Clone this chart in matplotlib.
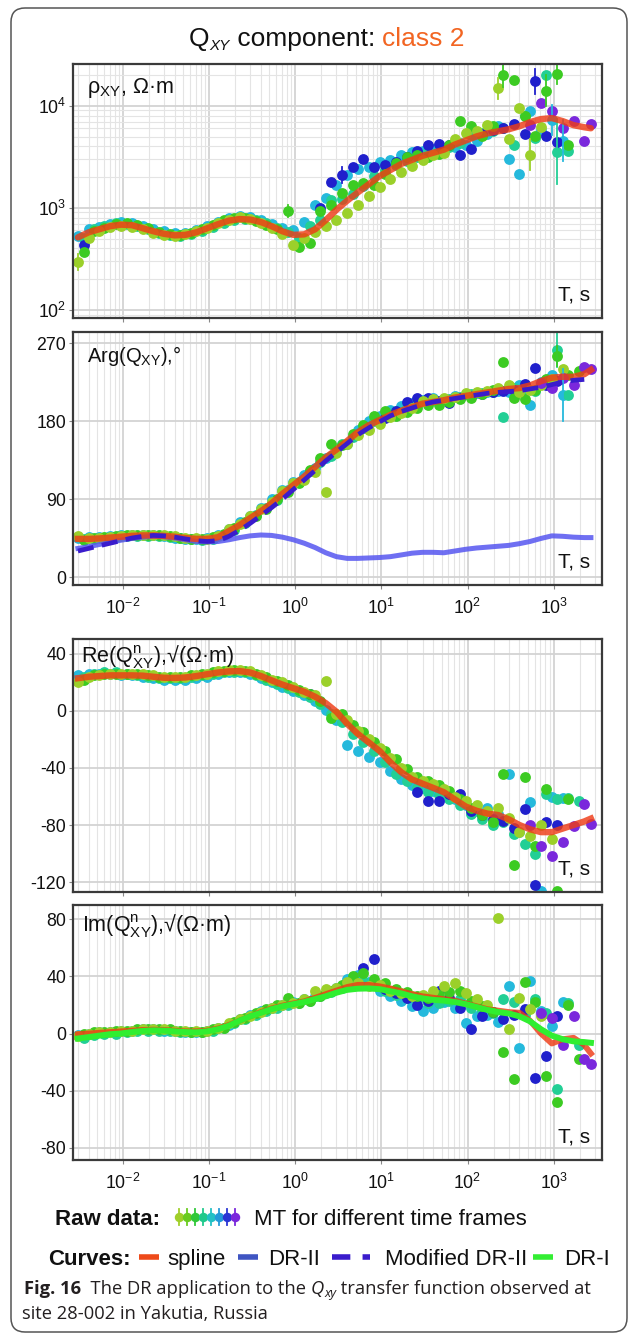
import numpy as np
import matplotlib
matplotlib.use('Agg')
import matplotlib.pyplot as plt
import matplotlib.ticker as mticker
from matplotlib.patches import FancyBboxPatch

plt.rcParams['font.family'] = ['Liberation Sans', 'DejaVu Sans']
plt.rcParams['mathtext.fontset'] = 'custom'
plt.rcParams['mathtext.rm'] = 'Liberation Sans'
plt.rcParams['mathtext.it'] = 'Liberation Sans:italic'
plt.rcParams['mathtext.bf'] = 'Liberation Sans:bold'
plt.rcParams['axes.unicode_minus'] = False

n = np.nan

# ---------------- data ----------------
# period grid of the curves and of time frames YG, C, P (s)
period = [0.003, 0.004, 0.0053, 0.0071, 0.0095, 0.0127, 0.017, 0.0226,
          0.03, 0.04, 0.053, 0.071, 0.095, 0.127, 0.17, 0.226,
          0.3, 0.4, 0.53, 0.71, 0.95, 1.27, 1.7, 2.26,
          3, 4, 5.3, 7.1, 9.5, 12.7, 17, 22.6,
          30, 40, 53, 71, 95, 127, 170, 226,
          300, 400, 530, 710, 950, 1270, 1700, 2260, 2700]
# period grid of time frames G, T, B (s)
period_b = [0.0035, 0.0046, 0.0061, 0.0082, 0.011, 0.0147, 0.0196, 0.0261,
            0.0347, 0.0462, 0.0612, 0.082, 0.11, 0.147, 0.196, 0.261,
            0.347, 0.462, 0.612, 0.82, 1.1, 1.47, 1.96, 2.61,
            3.47, 4.62, 6.12, 8.2, 11, 14.7, 19.6, 26.1,
            34.7, 46.2, 61.2, 82, 110, 147, 196, 261,
            347, 462, 612, 820, 1100, 1470, 1960, 2450, 2600]
x_ticks = [1e-2, 1e-1, 1e0, 1e1, 1e2, 1e3]

frame_names = ['C', 'T', 'B', 'G', 'YG', 'P']
frame_grid = {'YG': 'a', 'C': 'a', 'P': 'a', 'G': 'b', 'T': 'b', 'B': 'b'}
frame_colors = {'YG': '#9bd02a', 'G': '#3ccb22', 'T': '#22cf95',
                'C': '#25b9dc', 'B': '#2020cc', 'P': '#7a28dc'}
legend_colors = ['#a0cf2a', '#6acb20', '#30c838', '#20c98c', '#22c0c4',
                 '#2398d8', '#2a35d4', '#7a28dc']

# panel 1: log10 of apparent resistivity rho_xy (Ohm m)
rho_spline_log = [2.71, 2.76, 2.79, 2.82, 2.835, 2.83, 2.80, 2.77,
                  2.745, 2.73, 2.735, 2.76, 2.80, 2.84, 2.875, 2.89,
                  2.885, 2.86, 2.82, 2.77, 2.735, 2.74, 2.79, 2.88,
                  2.98, 3.07, 3.15, 3.23, 3.31, 3.37, 3.43, 3.47,
                  3.51, 3.54, 3.57, 3.62, 3.66, 3.70, 3.73, 3.75,
                  3.77, 3.80, 3.84, 3.87, 3.88, 3.85, 3.81, 3.79, 3.78]
rho_raw_log = {
    'YG': [2.47, 2.70, 2.77, 2.81, 2.82, 2.81, 2.79, 2.75,
           2.73, 2.72, 2.74, 2.77, 2.80, 2.85, 2.88, 2.91,
           2.89, 2.85, 2.80, 2.74, 2.64, 2.70, 2.76, 2.82,
           2.88, 2.95, 3.03, 3.12, 3.20, 3.28, 3.35, 3.41,
           3.47, 3.52, 3.54, 3.67, 3.73, 3.75, 3.81, 4.17,
           3.67, 3.98, 3.52, 3.79, n, n, n, n, n],
    'G': [2.57, 2.77, 2.80, 2.84, 2.85, 2.83, 2.80, 2.76,
          2.74, 2.73, 2.75, 2.79, 2.83, 2.88, 2.90, 2.90,
          2.87, 2.83, 2.79, 2.97, 2.62, 2.66, 2.97, 3.03,
          3.15, 3.22, 3.24, 3.22, 3.33, 3.44, 3.50, 3.52,
          3.50, 3.53, 3.62, 3.85, 3.80, 3.70, 3.80, 4.30,
          4.25, 3.90, 3.70, 4.15, 4.31, 3.62, n, n, n],
    'T': [2.70, 2.79, 2.82, 2.85, 2.84, 2.82, 2.79, 2.75,
          2.73, 2.72, 2.74, 2.77, 2.81, 2.85, 2.88, 2.89,
          2.88, 2.85, 2.80, 2.76, 2.70, 2.82, 2.88, 3.08,
          3.09, 3.14, 3.21, 3.31, 3.37, 3.42, 3.46, 3.50,
          3.55, 3.57, 3.60, 3.64, 3.71, 3.73, 3.75, 3.78,
          3.62, 3.90, 3.68, 4.30, 3.55, 3.56, n, n, n],
    'C': [2.72, 2.79, 2.81, 2.84, 2.86, 2.85, 2.82, 2.79,
          2.77, 2.75, 2.75, 2.78, 2.82, 2.86, 2.90, 2.92,
          2.91, 2.88, 2.84, 2.80, 2.78, 2.86, 3.03, 3.10,
          3.22, 3.32, 3.38, 3.40, 3.45, 3.47, 3.52, 3.55,
          3.56, 3.58, 3.56, 3.60, 3.62, 3.66, 3.72, 3.80,
          3.48, 3.33, 3.95, 3.76, 3.86, 3.66, n, n, n],
    'B': [2.64, n, n, n, n, n, n, n,
          n, n, n, n, n, n, n, n,
          n, n, n, n, n, n, 3.00, 3.25,
          3.32, 3.40, 3.48, 3.40, 3.42, 3.45, 3.50, 3.56,
          3.62, 3.63, 3.62, 3.52, 3.58, 3.72, 3.76, 3.78,
          3.82, 3.72, 4.24, 3.70, 3.65, n, n, n, n],
    'P': [n] * 40 + [n, n, 3.81, 4.03, 3.95, 3.78, 3.85, 3.66, 3.82],
}
rho_err_log = [('YG', 0, 0.08), ('G', 39, 0.12), ('YG', 39, 0.10), ('G', 43, 0.15),
               ('G', 44, 0.10), ('T', 44, 0.32), ('C', 44, 0.15), ('C', 45, 0.20),
               ('B', 42, 0.12), ('YG', 42, 0.15), ('B', 24, 0.08), ('G', 19, 0.06)]

# panel 2: phase Arg(Q_xy), degrees
arg_spline = [44, 44, 44.5, 45.5, 46.5, 47.5, 48, 48,
              47.5, 46.5, 45, 44, 44, 46, 53, 60,
              68, 76, 85, 96, 106, 116, 127, 138,
              147, 157, 167, 175, 181, 187, 192, 196,
              200, 202, 204, 207, 209, 211, 213, 215,
              217, 218, 221, 226, 230, 231, 231, 234, 239]
arg_mod_dr2 = [30, 33, 36, 39, 42, 45, 47, 48,
               47.5, 46, 44, 42, 41, 42, 47, 54,
               62, 71, 80, 90, 101, 112, 123, 134,
               144, 154, 164, 172, 179, 186, 191, 195,
               199, 202, 204, 206, 208, 210, 212, 213,
               214, 215, 217, 219, 222, 225, 227, 228, n]
arg_dr2 = [33, 35, 37.5, 40, 42.5, 44.5, 46, 47,
           46.5, 45, 43, 41, 40.5, 41, 43, 45.5,
           47.5, 48.5, 48, 46, 43, 39, 34, 28,
           23.5, 21.5, 21.5, 22, 22.5, 23.5, 25.5, 27.5,
           28.5, 28.5, 28, 30, 32, 33.5, 34.5, 35.5,
           36.5, 38.5, 41, 44.5, 47.5, 47, 46, 45.5, 45.5]
arg_raw = {
    'YG': [47, 45, 45, 46, 47, 48, 49, 49,
           48, 47, 45, 45, 44, 47, 55, 61,
           70, 78, 87, 99, 108, 112, 121, 98,
           143, 154, 164, 170, 176, 185, 189, 195,
           203, 205, 206, 208, 212, 213, 215, 218,
           222, 214, 216, 222, 228, 240, n, n, n],
    'G': [43, 45, 46, 47, 48, 49, 49, 48,
          47, 45, 44, 44, 46, 50, 56, 63,
          70, 79, 90, 98, 109, 123, 137, 153,
          152, 165, 175, 186, 191, 186, 190, 195,
          198, 199, 202, 205, 207, 211, 216, 248,
          207, 205, 216, 228, 255, 233, 238, n, n],
    'T': [44, 44, 45, 46, 47, 47, 47, 47,
          46, 45, 44, 43, 44, 48, 54, 62,
          71, 80, 89, 100, 110, 122, 133, 140,
          154, 162, 172, 180, 185, 191, 196, 199,
          201, 202, 205, 208, 211, 212, 214, 185,
          218, 217, 215, 226, 262, 210, n, n, n],
    'C': [45, 46, 46, 47, 48, 49, 49, 48,
          47, 45, 44, 44, 45, 48, 55, 63,
          70, 80, 90, 100, 110, 118, 126, 137,
          144, 153, 170, 180, 186, 193, 197, 201,
          204, 206, 205, 209, 211, 212, 214, 215,
          213, 222, 199, 225, 233, 210, n, n, n],
    'B': [n] * 24 + [n, n, n, n, 184, 192, 202, 206,
                     206, 203, 201, 206, 209, 211, 213, 215,
                     216, 223, 241, 222, 226, n, n, n, n],
    'P': [n] * 40 + [n, n, n, 224, 218, 230, 221, 242, 240],
}
arg_err = [('T', 44, 20), ('C', 45, 30), ('G', 44, 12)]

# panel 3: Re(Q^n_xy), sqrt(Ohm m)
re_spline = [23, 24, 24.5, 25, 25, 25, 24.8, 24,
             23.3, 23.2, 23.5, 24.5, 25.8, 27, 27.8, 28,
             27, 24.5, 21.5, 18.5, 16, 13.5, 10, 5.5,
             -0.5, -9, -16, -22, -28, -36, -43, -48,
             -51, -54, -57, -62, -67, -70, -72, -73,
             -76, -80, -83, -85, -85, -82.5, -80, -77.5, -75.5]
re_raw = {
    'YG': [20, 24, 25, 26, 26, 26, 26, 25,
           24, 24, 24, 25, 26, 28, 29, 29,
           28, 25, 22, 20, 17, 13, 11, 21,
           -2, -6, -14, -20, -26, -33, -40, -46,
           -49, -51, -55, -60, -63, -66, -70, -68,
           -75, -85, -88, -80, -90, n, n, n, n],
    'G': [22, 25, 26, 26, 26, 26, 25, 24,
          24, 24, 25, 26, 27, 28, 29, 28,
          26, 24, 21, 18, 15, 12, 7, -5,
          -2, -10, -15, -22, -28, -34, -41, -46,
          -49, -52, -56, -62, -68, -73, -78, -44,
          -108, -46, -95, -55, -126, -62, n, n, n],
    'T': [24, 26, 27, 27, 26, 25, 24, 23,
          23, 23, 24, 25, 26, 27, 27, 27,
          25, 22, 19, 16, 13, 10, 5, -2,
          -8, -16, -22, -28, -36, -44, -49, -54,
          -57, -59, -62, -66, -72, -76, -80, -78,
          -86, -93, -100, -58, -62, -61, -63, n, n],
    'C': [25, 26, 26, 26, 25, 25, 24, 23,
          22, 22, 22, 23, 24, 26, 27, 27,
          26, 23, 20, 17, 14, 11, 7, 1,
          -6, -24, -28, -32, -36, -42, -48, -52,
          -54, -56, -58, -62, -66, -70, -68, -72,
          -44, -85, -64, -126, -60, -61, n, n, n],
    'B': [n] * 16 + [n, n, n, n, n, 12, n, n,
                     n, n, n, n, n, n, n, -57,
                     -63, -63, -58, -58, -70, -73, -76, -77,
                     -82, -69, -122, -78, -80, n, n, n, n],
    'P': [n] * 40 + [n, n, -80, -95, -102, -92, -81, -65, -79],
}

# panel 4: Im(Q^n_xy), sqrt(Ohm m)
im_spline = [-0.5, 0, 0.5, 1, 1.5, 2, 2.5, 2.7,
             2.5, 2, 1.5, 1.5, 2, 3.5, 6, 9,
             12, 15, 17.5, 19.5, 21, 22.5, 25, 27.5,
             30, 32.5, 34, 34, 33, 31.5, 29.5, 27.5,
             26, 25, 24, 23, 21, 19, 17, 16,
             15, 14.5, 9, 0, -7, -4, -3, -8, -14]
im_dr1 = [-3.5, -2.5, -1.5, -0.5, 0, 1, 1.8, 2.2,
          2, 1.5, 1, 0.8, 1.5, 3, 5.5, 9,
          12, 14.5, 17, 19, 20.5, 22, 24, 26,
          28.5, 30.5, 31.3, 31.5, 31, 29.5, 28, 26,
          24.5, 23.5, 23, 22, 20.5, 18.5, 16.5, 15,
          14, 12, 8.5, 3, -1.5, -4, -5.5, -6, -6.5]
im_raw = {
    'YG': [-2, 0, 1, 1, 2, 2, 3, 3,
           3, 2, 2, 2, 2, 4, 7, 10,
           12, 15, 18, 20, 21, 24, 30, 31,
           32, 36, 35, 33, 34, 30, 28, 26,
           27, 30, 33, 35, 28, 24, 20, 81,
           3, 25, 17, 12, n, n, n, n, n],
    'G': [0, 1, 1, 2, 2, 3, 3, 3,
          3, 2, 1, 1, 3, 4, 8, 11,
          14, 17, 20, 25, 21, 23, 26, 30,
          34, 40, 42, 38, 35, 31, 29, 26,
          25, 27, 29, 30, 23, 19, 15, -13,
          -32, 36, 22, -30, -48, 20, -18, n, n],
    'T': [-3, -1, 0, 0, 1, 2, 2, 2,
          2, 1, 1, 1, 2, 4, 7, 10,
          13, 16, 18, 20, 21, 23, 26, 29,
          32, 35, 37, 34, 30, 27, 25, 23,
          21, 21, 23, 24, 18, 16, 14, 24,
          22, 13, 24, 14, -39, 21, -8, n, n],
    'C': [-1, 0, 1, 1, 2, 2, 3, 3,
          2, 2, 1, 1, 2, 4, 6, 10,
          13, 16, 18, 20, 22, 24, 26, 28,
          32, 38, 41, 36, 30, 26, 23, 19,
          16, 18, 22, 18, 7, 12, 13, 8,
          33, -10, 37, 16, 5, 22, n, n, n],
    'B': [n] * 24 + [n, n, 46, 52, 31, 28, 25, 20,
                     23, 30, 25, 18, 3, 12, 15, 10,
                     13, 17, -31, -16, 12, n, n, n, n],
    'P': [n] * 40 + [n, n, n, 14, 11, -8, 12, -18, -21],
}

# ---------------- figure ----------------
W, H = 629, 1335
fig = plt.figure(figsize=(W / 100, H / 100), dpi=100)

def rect(top, bottom, left=73, right=602):
    return [left / W, 1 - bottom / H, (right - left) / W, (bottom - top) / H]

ax1 = fig.add_axes(rect(64, 318))
ax2 = fig.add_axes(rect(332, 585))
ax3 = fig.add_axes(rect(639, 892))
ax4 = fig.add_axes(rect(905, 1160))
axes = [ax1, ax2, ax3, ax4]

T = np.array(period)
grids = {'a': np.array(period), 'b': np.array(period_b)}
for ax in axes:
    ax.set_xscale('log')
    ax.set_xlim(10 ** -2.58, 10 ** 3.56)
    ax.xaxis.set_major_locator(mticker.FixedLocator(x_ticks))
    ax.xaxis.set_minor_locator(mticker.LogLocator(base=10, subs=np.arange(2, 10), numticks=20))
    ax.xaxis.set_minor_formatter(mticker.NullFormatter())
    ax.xaxis.set_major_formatter(mticker.LogFormatterMathtext())
    ax.grid(which='major', color='#d3d3d3', lw=1.3, zorder=0)
    ax.grid(which='minor', axis='x', color='#e4e4e4', lw=0.8, zorder=0)
    ax.set_axisbelow(True)
    for sp in ax.spines.values():
        sp.set_color('#3a3a3a')
        sp.set_linewidth(1.6)
    ax.tick_params(which='major', direction='out', length=3, color='#888888',
                   labelsize=12.8, pad=2, labelcolor='#111111')
    ax.tick_params(axis='x', which='major', pad=6)
    ax.tick_params(which='minor', length=0)

for ax in (ax1, ax3):
    ax.tick_params(axis='x', labelbottom=False)

ax1.set_yscale('log')
ax1.set_ylim(10 ** 1.92, 10 ** 4.41)
ax1.yaxis.set_major_locator(mticker.FixedLocator([1e2, 1e3, 1e4]))
ax1.yaxis.set_minor_locator(mticker.LogLocator(base=10, subs=np.arange(2, 10), numticks=10))
ax1.yaxis.set_minor_formatter(mticker.NullFormatter())
ax1.yaxis.set_major_formatter(mticker.LogFormatterMathtext())
ax1.grid(which='minor', axis='y', color='#e4e4e4', lw=0.8)

ax2.set_ylim(-9.2, 282.7)
ax2.set_yticks([0, 90, 180, 270])
ax3.set_ylim(-127, 50.5)
ax3.set_yticks([-120, -80, -40, 0, 40])
ax4.set_ylim(-88.4, 89.8)
ax4.set_yticks([-80, -40, 0, 40, 80])

def raw_scatter(ax, raw, log=False, errs=()):
    for name in frame_names:
        v = np.array(raw[name], dtype=float)
        if log:
            v = 10 ** v
        ax.plot(grids[frame_grid[name]], v, 'o', ms=7.8, color=frame_colors[name],
                mec='none', ls='none', zorder=2)
    for name, i, e in errs:
        v = raw[name][i]
        t = grids[frame_grid[name]][i]
        if log:
            lo, hi = 10 ** (v - e), 10 ** (v + e)
        else:
            lo, hi = v - e, v + e
        ax.plot([t, t], [lo, hi], color=frame_colors[name], lw=1.3, zorder=2)

spline_col = '#ee3c16'
raw_scatter(ax1, rho_raw_log, log=True, errs=rho_err_log)
ax1.plot(T, 10 ** np.array(rho_spline_log), color=spline_col, lw=4.6, alpha=0.82,
         solid_capstyle='round', zorder=4)

raw_scatter(ax2, arg_raw, errs=arg_err)
ax2.plot(T, arg_dr2, color='#5656f0', lw=3.6, alpha=0.85, zorder=3)
ax2.plot(T, arg_spline, color=spline_col, lw=4.6, alpha=0.82, zorder=4)
ax2.plot(T, arg_mod_dr2, color='#3a1ccc', lw=3.4, dashes=(3.4, 1.8), zorder=5)

raw_scatter(ax3, re_raw)
ax3.plot(T, re_spline, color=spline_col, lw=4.6, alpha=0.82, zorder=4)

raw_scatter(ax4, im_raw)
ax4.plot(T, im_spline, color=spline_col, lw=4.2, alpha=0.82, zorder=4)
ax4.plot(T, im_dr1, color='#30ee30', lw=4.3, zorder=5)

labels = ['ρ$_{\\mathrm{XY}}$, Ω·m', 'Arg(Q$_{\\mathrm{XY}}$),°',
          'Re($\\mathrm{Q}^{\\mathrm{n}}_{\\mathrm{XY}}$),√(Ω·m)',
          'Im($\\mathrm{Q}^{\\mathrm{n}}_{\\mathrm{XY}}$),√(Ω·m)']
label_x = [0.026, 0.026, 0.015, 0.017]
label_y = [0.905, 0.905, 0.93, 0.92]
label_fs = [15.5, 14.5, 15.5, 15.5]
for ax, lab, lx, ly, lf in zip(axes, labels, label_x, label_y, label_fs):
    ax.text(lx, ly, lab, transform=ax.transAxes, ha='left', va='center',
            fontsize=lf, color='#111111', zorder=6)
    ax.text(0.977, 0.09, 'T, s', transform=ax.transAxes, ha='right', va='center',
            fontsize=15, color='#111111', zorder=6)

# ---------------- overlay (pixel coordinates) ----------------
lax = fig.add_axes([0, 0, 1, 1], zorder=-1)
lax.set_xlim(0, W)
lax.set_ylim(H, 0)
lax.axis('off')
box = FancyBboxPatch((11, 8), 616, 1324, boxstyle='round,pad=0,rounding_size=14',
                     fc='white', ec='#555555', lw=1.1)
lax.add_patch(box)

lax2 = fig.add_axes([0, 0, 1, 1], zorder=10)
lax2.set_xlim(0, W)
lax2.set_ylim(H, 0)
lax2.axis('off')
lax2.patch.set_alpha(0)
renderer = fig.canvas.get_renderer()

def place_row(items, y_base, x0=None, xc=None):
    made, widths = [], []
    for it in items:
        if it[0] == 't':
            t = lax2.text(0, y_base + it[3], it[1], ha='left', va='baseline', **it[2])
            made.append(t)
            widths.append(t.get_window_extent(renderer).width)
        else:
            made.append(None)
            widths.append(it[1])
    x = x0 if x0 is not None else xc - sum(widths) / 2
    for it, t, w in zip(items, made, widths):
        if it[0] == 't':
            t.set_x(x)
        elif it[0] == 'a':
            it[2](x, x + w)
        x += w
    return x

# title
tfs = 19
place_row([('t', 'Q', dict(fontsize=tfs, color='#111111'), 0),
           ('t', 'XY', dict(fontsize=tfs * 0.58, style='italic', color='#111111'), 4),
           ('t', ' component: ', dict(fontsize=tfs, color='#111111'), 0),
           ('t', 'class 2', dict(fontsize=tfs, color='#f26522'), 0)],
          46, xc=327)

# legend rows
lfs = 16
yc1 = 1217
def raw_markers(a, b):
    for i, c in enumerate(legend_colors):
        x = a + 4 + i * 8.0
        lax2.plot([x, x], [yc1 - 8, yc1 + 8], color=c, lw=1.3)
        lax2.plot([x], [yc1], 'o', ms=6.8, color=c, mec='none')

place_row([('t', 'Raw data:', dict(fontsize=lfs, weight='bold', color='#111111'), 0),
           ('g', 15), ('a', 64, raw_markers), ('g', 15),
           ('t', 'MT for different time frames', dict(fontsize=lfs, color='#111111'), 0)],
          yc1 + 8, x0=55)

yc2 = 1257
def seg(color, dashed=False):
    def f(a, b):
        if dashed:
            lax2.plot([a, b], [yc2, yc2], color=color, lw=4, dashes=(3.3, 2.2),
                      solid_capstyle='butt', dash_capstyle='butt')
        else:
            lax2.plot([a, b], [yc2, yc2], color=color, lw=4, solid_capstyle='butt')
    return f

place_row([('t', 'Curves:', dict(fontsize=lfs, weight='bold', color='#111111'), 0),
           ('g', 8), ('a', 20, seg('#ee4a1a')), ('g', 9),
           ('t', 'spline', dict(fontsize=lfs, color='#111111'), 0),
           ('g', 12), ('a', 20, seg('#3f55c2')), ('g', 10),
           ('t', 'DR-II', dict(fontsize=lfs, color='#111111'), 0),
           ('g', 12), ('a', 38, seg('#3a1ccc', dashed=True)), ('g', 15),
           ('t', 'Modified DR-II', dict(fontsize=lfs, color='#111111'), 0),
           ('g', 6), ('a', 20, seg('#33ee33')), ('g', 11),
           ('t', 'DR-I', dict(fontsize=lfs, color='#111111'), 0)],
          yc2 + 8, x0=48)

# caption
cfs = 13.2
cfam = ['Open Sans', 'DejaVu Sans']
place_row([('t', 'Fig. 16', dict(fontsize=cfs, weight='bold', family=cfam, color='#231f20'), 0),
           ('t', '  The DR application to the ', dict(fontsize=cfs, family=cfam, color='#231f20'), 0),
           ('t', 'Q', dict(fontsize=cfs, style='italic', family=cfam, color='#231f20'), 0),
           ('t', 'xy', dict(fontsize=cfs * 0.7, style='italic', family=cfam, color='#231f20'), 3),
           ('t', ' transfer function observed at', dict(fontsize=cfs, family=cfam, color='#231f20'), 0)],
          1294, x0=24)
place_row([('t', 'site 28-002 in Yakutia, Russia', dict(fontsize=cfs, family=cfam, color='#231f20'), 0)],
          1319, x0=22)

fig.savefig('out.png', dpi=100)
